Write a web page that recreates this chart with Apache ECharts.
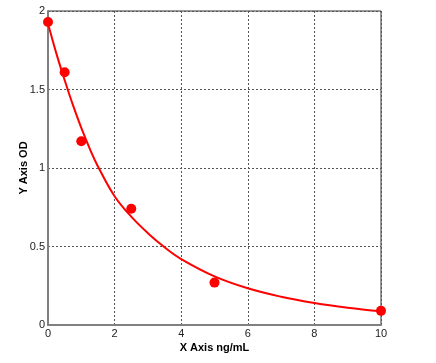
<!DOCTYPE html>
<html><head><meta charset="utf-8">
<script src="https://cdn.jsdelivr.net/npm/echarts@6/dist/echarts.min.js"></script>
<style>html,body{margin:0;padding:0;background:#fff}#c{width:436px;height:363px}</style>
</head><body><div id="c"></div>
<script>
const pointX = [0, 0.5, 1, 2.5, 5, 10];
const pointY = [1.93, 1.61, 1.17, 0.74, 0.27, 0.09];
const curveX = [0, 0.25, 0.5, 0.75, 1, 1.25, 1.5, 2, 2.5, 3, 3.5, 4, 5, 6, 7, 8, 9, 10];
const curveY = [1.92, 1.73, 1.56, 1.40, 1.255, 1.125, 1.01, 0.82, 0.69, 0.585, 0.495, 0.42, 0.31, 0.234, 0.18, 0.14, 0.11, 0.087];
const xTicks = [0, 2, 4, 6, 8, 10];
const yTicks = [0, 0.5, 1, 1.5, 2];

const chart = echarts.init(document.getElementById('c'));
const font = 'Liberation Sans, Arial, sans-serif';
chart.setOption({
  animation: false,
  grid: {left: 48, right: 55, top: 11, bottom: 38, show: true, borderColor: '#333', borderWidth: 1},
  xAxis: {
    type: 'value', min: xTicks[0], max: xTicks[xTicks.length - 1], interval: 2,
    name: 'X Axis ng/mL', nameLocation: 'middle', nameGap: 17, nameMoveOverlap: false,
    nameTextStyle: {fontFamily: font, fontWeight: 'bold', fontSize: 11, color: '#000'},
    axisLine: {lineStyle: {color: '#808080', width: 2}},
    axisTick: {show: false},
    axisLabel: {fontFamily: font, fontSize: 11, color: '#222', margin: 3},
    splitLine: {show: true, lineStyle: {color: '#555', type: [2, 2], width: 1}}
  },
  yAxis: {
    type: 'value', min: yTicks[0], max: yTicks[yTicks.length - 1], interval: 0.5,
    name: 'Y Axis OD', nameLocation: 'middle', nameGap: 19, nameMoveOverlap: false,
    nameTextStyle: {fontFamily: font, fontWeight: 'bold', fontSize: 11, color: '#000'},
    axisLine: {show: true, lineStyle: {color: '#808080', width: 2}},
    axisTick: {show: false},
    axisLabel: {fontFamily: font, fontSize: 11, color: '#222', margin: 3},
    splitLine: {show: true, lineStyle: {color: '#555', type: [2, 2], width: 1}}
  },
  series: [
    {type: 'line', data: curveX.map((x, i) => [x, curveY[i]]), smooth: 0.4, showSymbol: false,
     lineStyle: {color: '#ff0000', width: 2}, z: 3},
    {type: 'scatter', data: pointX.map((x, i) => [x, pointY[i]]), symbolSize: 10,
     itemStyle: {color: '#ff0000', opacity: 1}, z: 4}
  ]
});
</script></body></html>
